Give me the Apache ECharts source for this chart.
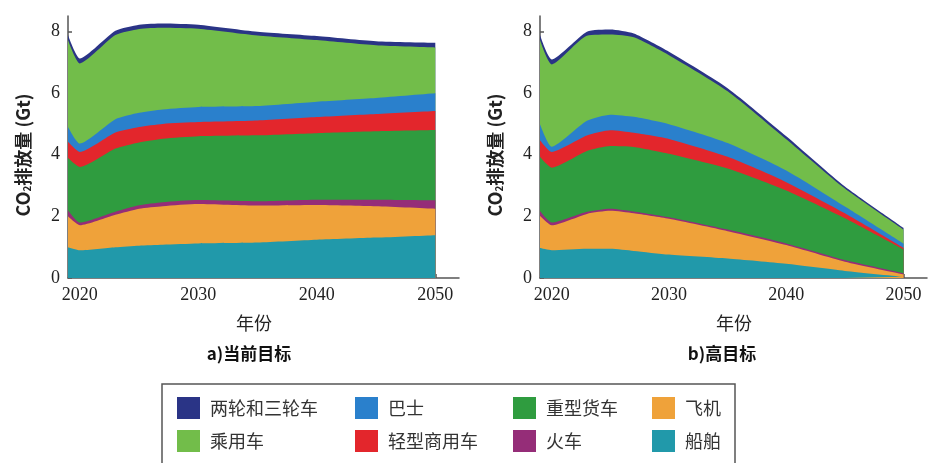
<!DOCTYPE html>
<html>
<head>
<meta charset="utf-8">
<script src="https://cdn.jsdelivr.net/npm/echarts@6/dist/echarts.min.js"></script>
<style>
html,body{margin:0;padding:0;background:#fff;}
#c{width:928px;height:463px;}
</style>
</head>
<body>
<div id="c"></div>
<script>
// ---- data ----
const years = [2019, 2020, 2023, 2025, 2027, 2030, 2035, 2040, 2045, 2050];
const seriesNames = ['船舶', '飞机', '火车', '重型货车', '轻型商用车', '巴士', '乘用车', '两轮和三轮车'];
const seriesColors = ['#2199aa', '#efa23a', '#952d78', '#2f9c3f', '#e3262c', '#2a80cc', '#72bd4a', '#2a3486'];
// a) 当前目标 (segment values, Gt)
const curShip    = [1.00, 0.90, 1.00, 1.05, 1.08, 1.12, 1.15, 1.24, 1.31, 1.39];
const curPlane   = [1.00, 0.81, 1.05, 1.20, 1.25, 1.28, 1.20, 1.13, 1.02, 0.86];
const curTrain   = [0.20, 0.09, 0.10, 0.11, 0.13, 0.13, 0.14, 0.17, 0.21, 0.27];
const curHeavy   = [1.70, 1.80, 2.05, 2.04, 2.06, 2.07, 2.14, 2.16, 2.22, 2.28];
const curLight   = [0.52, 0.49, 0.52, 0.50, 0.48, 0.46, 0.48, 0.52, 0.56, 0.62];
const curBus     = [0.48, 0.27, 0.43, 0.46, 0.47, 0.49, 0.47, 0.50, 0.52, 0.57];
const curCar     = [2.82, 2.60, 2.73, 2.72, 2.65, 2.54, 2.29, 2.00, 1.71, 1.49];
const curTwo     = [0.16, 0.16, 0.14, 0.14, 0.14, 0.13, 0.12, 0.13, 0.13, 0.15];
// b) 高目标
const highShip   = [0.97, 0.90, 0.95, 0.95, 0.88, 0.76, 0.63, 0.46, 0.23, 0.04];
const highPlane  = [1.05, 0.81, 1.13, 1.23, 1.22, 1.16, 0.89, 0.61, 0.30, 0.08];
const highTrain  = [0.15, 0.09, 0.07, 0.07, 0.06, 0.05, 0.05, 0.05, 0.05, 0.03];
const highHeavy  = [1.76, 1.78, 1.97, 2.03, 2.09, 2.06, 1.98, 1.72, 1.36, 0.78];
const highLight  = [0.54, 0.51, 0.50, 0.51, 0.46, 0.48, 0.38, 0.27, 0.16, 0.05];
const highBus    = [0.52, 0.17, 0.48, 0.51, 0.52, 0.48, 0.45, 0.38, 0.22, 0.14];
const highCar    = [2.73, 2.67, 2.76, 2.60, 2.58, 2.24, 1.68, 1.01, 0.58, 0.45];
const highTwo    = [0.16, 0.16, 0.13, 0.16, 0.12, 0.11, 0.10, 0.10, 0.07, 0.06];
const xTicks = [2020, 2030, 2040, 2050];
const yTicks = [0, 2, 4, 6, 8];

const curSets = [curShip, curPlane, curTrain, curHeavy, curLight, curBus, curCar, curTwo];
const highSets = [highShip, highPlane, highTrain, highHeavy, highLight, highBus, highCar, highTwo];

// cumulative totals (stacked from bottom)
function cumulate(sets) {
  const out = [];
  let run = years.map(() => 0);
  sets.forEach(vals => {
    run = run.map((r, k) => +(r + vals[k]).toFixed(4));
    out.push(run.slice());
  });
  return out;
}

const chart = echarts.init(document.getElementById('c'), null, {renderer: 'canvas'});

const axisLineStyle = {color: '#555', width: 1.5};
const labelFont = {fontFamily: 'Liberation Serif', fontSize: 18, color: '#222'};

function makeX(idx) {
  return {
    type: 'value', gridIndex: idx, min: 2019, max: 2052,
    axisLine: {show: true, onZero: false, lineStyle: axisLineStyle},
    axisTick: {show: true, inside: true, length: 4, customValues: xTicks, lineStyle: axisLineStyle},
    axisLabel: Object.assign({customValues: xTicks, margin: 8, formatter: v => String(v)}, labelFont),
    splitLine: {show: false}
  };
}
function makeY(idx) {
  return {
    type: 'value', gridIndex: idx, min: 0, max: 8.5,
    name: '{a|CO}{s|2}{a|排放量 (Gt)}',
    nameLocation: 'middle', nameGap: 36,
    nameTextStyle: {
      padding: [0, 16, 0, 0],
      rich: {
        a: {fontFamily: 'Noto Sans CJK SC', fontSize: 18, fontWeight: 'bold', color: '#222'},
        s: {fontFamily: 'Noto Sans CJK SC', fontSize: 10, fontWeight: 'bold', color: '#222', verticalAlign: 'bottom', padding: [8, 0, 0, 0]}
      }
    },
    axisLine: {show: true, lineStyle: axisLineStyle},
    axisTick: {show: true, inside: true, length: 4, customValues: yTicks, lineStyle: axisLineStyle},
    axisLabel: Object.assign({customValues: yTicks, margin: 8}, labelFont),
    splitLine: {show: false}
  };
}

const series = [];
[curSets, highSets].forEach((sets, gi) => {
  const cum = cumulate(sets);
  // draw top band first so lower bands are painted over it
  for (let si = sets.length - 1; si >= 0; si--) {
    series.push({
      name: seriesNames[si],
      type: 'line',
      xAxisIndex: gi, yAxisIndex: gi,
      data: years.map((y, k) => [y, cum[si][k]]),
      smooth: 0.2,
      showSymbol: false,
      symbol: 'none',
      lineStyle: {width: 0},
      areaStyle: {color: seriesColors[si], opacity: 1, origin: 'start'},
      itemStyle: {color: seriesColors[si]},
      animation: false,
      z: 2
    });
  }
});

const legendCols = [
  ['两轮和三轮车', '乘用车'],
  ['巴士', '轻型商用车'],
  ['重型货车', '火车'],
  ['飞机', '船舶']
];
const legendLefts = [177, 355, 513, 652];
const legends = legendCols.map((d, i) => ({
  data: d,
  orient: 'vertical',
  left: legendLefts[i], top: 397,
  itemWidth: 23, itemHeight: 22, itemGap: 11,
  icon: 'rect',
  padding: 0,
  selectedMode: false,
  textStyle: {fontFamily: 'Noto Sans CJK SC', fontSize: 18, color: '#333', padding: [0, 0, 0, 5]}
}));

chart.setOption({
  backgroundColor: '#fff',
  animation: false,
  grid: [
    {left: 68, top: 16, width: 391, height: 262},
    {left: 540, top: 16, width: 387, height: 262}
  ],
  xAxis: [makeX(0), makeX(1)],
  yAxis: [makeY(0), makeY(1)],
  legend: legends,
  series: series,
  graphic: [
    {type: 'text', x: 254, y: 323, style: {text: '年份', font: '18px "Noto Sans CJK SC"', fill: '#222', textAlign: 'center', textVerticalAlign: 'middle'}},
    {type: 'text', x: 734, y: 323, style: {text: '年份', font: '18px "Noto Sans CJK SC"', fill: '#222', textAlign: 'center', textVerticalAlign: 'middle'}},
    {type: 'text', x: 249, y: 354, style: {text: 'a)当前目标', font: 'bold 17px "Noto Sans CJK SC"', fill: '#111', textAlign: 'center', textVerticalAlign: 'middle'}},
    {type: 'text', x: 722, y: 354, style: {text: 'b)高目标', font: 'bold 17px "Noto Sans CJK SC"', fill: '#111', textAlign: 'center', textVerticalAlign: 'middle'}},
    {type: 'rect', shape: {x: 162, y: 384, width: 573, height: 100}, style: {fill: 'none', stroke: '#555', lineWidth: 1.5}}
  ]
});
</script>
</body>
</html>
